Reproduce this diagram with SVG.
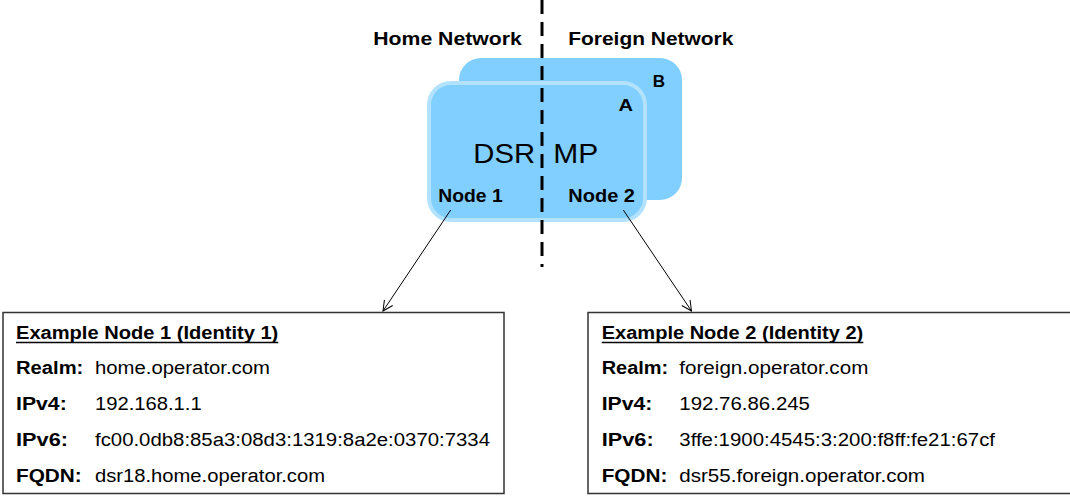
<svg xmlns="http://www.w3.org/2000/svg" width="1070" height="496" viewBox="0 0 1070 496">
<defs>
<style>
.t{font-family:"Liberation Sans",Arial,sans-serif;fill:#000}
.b{font-weight:bold}
.hd{font-size:19px;font-weight:bold}
.big{font-size:28px}
.lbl{font-size:16px;font-weight:bold}
.nd{font-size:18px;font-weight:bold}
.bx{font-size:18px}
.card{fill:#80CFFF}
.box{fill:#fff;stroke:#333;stroke-width:1.5}
.conn{stroke:#000;stroke-width:1;fill:none}
</style>
<marker id="arr" viewBox="0 0 12 12" refX="11" refY="6" markerWidth="12" markerHeight="12" markerUnits="userSpaceOnUse" orient="auto">
<path d="M1,1 L11,6 L1,11" fill="none" stroke="#000" stroke-width="1"/>
</marker>
</defs>
<rect width="1070" height="496" fill="#fff"/>
<g id="dsr-mp">
<rect id="card-b" class="card" x="459" y="58" width="223" height="142" rx="22"/>
<rect id="card-a" class="card" x="429" y="83" width="216" height="137" rx="22" stroke="#B3E2FF" stroke-width="4"/>
<text class="t lbl" x="652.7" y="87" textLength="12.3" lengthAdjust="spacingAndGlyphs">B</text>
<text class="t lbl" x="618.5" y="111" textLength="14.5" lengthAdjust="spacingAndGlyphs">A</text>
<text class="t big" x="473.3" y="163" textLength="61.7" lengthAdjust="spacingAndGlyphs">DSR</text>
<text class="t big" x="553.3" y="163" textLength="45" lengthAdjust="spacingAndGlyphs">MP</text>
<text class="t nd" x="438.3" y="201.5" textLength="64.4" lengthAdjust="spacingAndGlyphs">Node 1</text>
<text class="t nd" x="568.3" y="201.5" textLength="66.7" lengthAdjust="spacingAndGlyphs">Node 2</text>
</g>
<g id="network-labels">
<text class="t hd" x="373.3" y="45" textLength="148.4" lengthAdjust="spacingAndGlyphs">Home Network</text>
<text class="t hd" x="568.3" y="45" textLength="165" lengthAdjust="spacingAndGlyphs">Foreign Network</text>
</g>
<g id="connectors">
<line x1="542" y1="0" x2="542" y2="267" stroke="#000" stroke-width="3" stroke-dasharray="14,8"/>
<line class="conn" x1="450.7" y1="210" x2="383" y2="311" marker-end="url(#arr)"/>
<line class="conn" x1="623.3" y1="210" x2="691.5" y2="311" marker-end="url(#arr)"/>
</g>
<g id="node1-box">
<rect class="box" x="3" y="312.5" width="501" height="181"/>
<text class="t bx b" x="16" y="339" textLength="262.3" lengthAdjust="spacingAndGlyphs">Example Node 1 (Identity 1)</text>
<line x1="16" y1="342.5" x2="278.3" y2="342.5" stroke="#000" stroke-width="1.5"/>
<text class="t bx b" x="16" y="374" textLength="67.3" lengthAdjust="spacingAndGlyphs">Realm:</text>
<text class="t bx" x="95" y="374" textLength="175" lengthAdjust="spacingAndGlyphs">home.operator.com</text>
<text class="t bx b" x="16" y="410" textLength="50.7" lengthAdjust="spacingAndGlyphs">IPv4:</text>
<text class="t bx" x="95" y="410" textLength="106.7" lengthAdjust="spacingAndGlyphs">192.168.1.1</text>
<text class="t bx b" x="16" y="446" textLength="52" lengthAdjust="spacingAndGlyphs">IPv6:</text>
<text class="t bx" x="95" y="446" textLength="395" lengthAdjust="spacingAndGlyphs">fc00.0db8:85a3:08d3:1319:8a2e:0370:7334</text>
<text class="t bx b" x="16" y="482" textLength="65.7" lengthAdjust="spacingAndGlyphs">FQDN:</text>
<text class="t bx" x="95" y="482" textLength="230" lengthAdjust="spacingAndGlyphs">dsr18.home.operator.com</text>
</g>
<g id="node2-box">
<rect class="box" x="588" y="312.5" width="490" height="181"/>
<text class="t bx b" x="601.7" y="339" textLength="261.6" lengthAdjust="spacingAndGlyphs">Example Node 2 (Identity 2)</text>
<line x1="601.7" y1="342.5" x2="863.3" y2="342.5" stroke="#000" stroke-width="1.5"/>
<text class="t bx b" x="601.7" y="374" textLength="66.6" lengthAdjust="spacingAndGlyphs">Realm:</text>
<text class="t bx" x="679.3" y="374" textLength="189" lengthAdjust="spacingAndGlyphs">foreign.operator.com</text>
<text class="t bx b" x="601.7" y="410" textLength="50.7" lengthAdjust="spacingAndGlyphs">IPv4:</text>
<text class="t bx" x="679.3" y="410" textLength="130.7" lengthAdjust="spacingAndGlyphs">192.76.86.245</text>
<text class="t bx b" x="601.7" y="446" textLength="52" lengthAdjust="spacingAndGlyphs">IPv6:</text>
<text class="t bx" x="679.3" y="446" textLength="315.7" lengthAdjust="spacingAndGlyphs">3ffe:1900:4545:3:200:f8ff:fe21:67cf</text>
<text class="t bx b" x="601.7" y="482" textLength="65.7" lengthAdjust="spacingAndGlyphs">FQDN:</text>
<text class="t bx" x="679.3" y="482" textLength="245.7" lengthAdjust="spacingAndGlyphs">dsr55.foreign.operator.com</text>
</g>
</svg>
